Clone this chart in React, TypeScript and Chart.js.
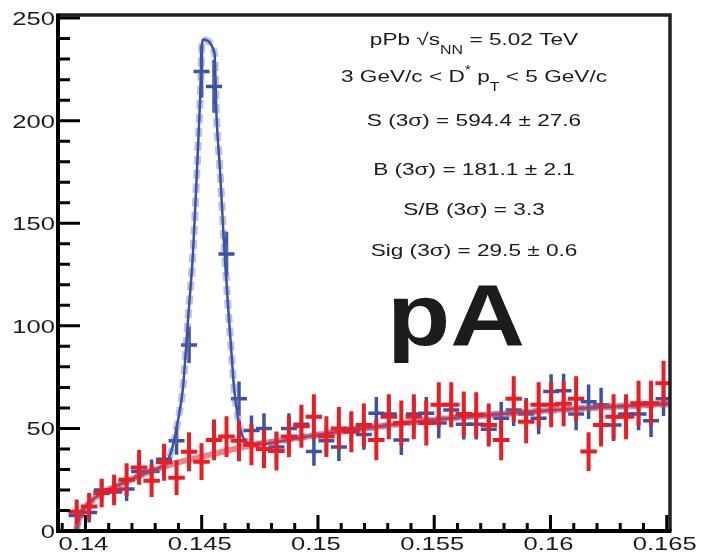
import React, { useEffect, useRef } from "react";
import { Chart, registerables } from "chart.js";

Chart.register(...registerables);

// ---------------- data ----------------
const binCenters = [
  0.139086, 0.139623, 0.14016, 0.140697, 0.141234, 0.141771, 0.142308, 0.142845, 0.143382, 0.143919,
  0.144456, 0.144993, 0.14553, 0.146067, 0.146604, 0.147141, 0.147678, 0.148215, 0.148752, 0.149289,
  0.149826, 0.150363, 0.1509, 0.151437, 0.151974, 0.152511, 0.153048, 0.153585, 0.154122, 0.154659,
  0.155196, 0.155733, 0.15627, 0.156807, 0.157344, 0.157881, 0.158418, 0.158955, 0.159492, 0.160029,
  0.160566, 0.161103, 0.16164, 0.162177, 0.162714, 0.163251, 0.163788, 0.164325, 0.164862,
];
const binHalfWidth = 0.000268;

const blueCounts = [
  null, 7.5, 9, 20, 19, 20.5, 29, 29, 35, 44,
  90.7, 224, 216.7, 135, 64.5, 49, 50, 41, 50, 52,
  38.7, 44, 41, 50, 47, 57.4, 57, 44.4, 57, 57.4,
  52.6, 59, 52, 52, 49.6, 55, 59, 57, 55, 68,
  68.3, 57, 63, 61.5, 51.7, 57, 57, 53.7, 64.4,
];
const blueErrors = [
  null, 3.5, 4, 4.5, 4.5, 5, 5, 5, 5.5, 6,
  8, 12, 12, 10, 7.5, 6.5, 6.5, 6, 6.5, 6.5,
  6, 6, 6, 6.5, 6.5, 7, 7, 6.5, 7, 7,
  6.5, 7, 6.5, 6.5, 6.5, 7, 7, 7, 7, 7.5,
  7.5, 7, 7.5, 7.5, 7, 7, 7, 7, 7.5,
];
const redCounts = [
  null, 9.4, 12, 18.5, 20, 25, 31, 24.5, 33.5, 26,
  38.6, 33.8, 44.4, 46, 44, 42, 40, 39, 46, 51,
  55.7, 46, 50, 48.4, 51.7, 44.4, 55.7, 52.6, 55.7, 52.6,
  61.5, 61.5, 57, 56.6, 51.7, 44.4, 64.4, 53.3, 61.5, 61.5,
  62, 64.4, 38.7, 51.7, 55.7, 55.7, 62.3, 62.3, 72,
];
const redErrors = [
  null, 5, 5.5, 6, 6.5, 7, 7.5, 7, 8, 7.5,
  8.5, 8, 9, 9, 9, 9, 8.5, 8.5, 9, 9.5,
  10, 9, 9.5, 9, 9.5, 9, 10, 10, 10, 10,
  10, 10, 10, 10, 9.5, 9, 10, 9.5, 10, 10,
  10, 10, 8.5, 9.5, 10, 10, 10, 10, 10,
];

// background fit (wrong sign)
const bkgFitX = [
  0.139594, 0.139766, 0.14011, 0.140626, 0.141271, 0.141916, 0.142776, 0.143852, 0.144927, 0.146217,
  0.147508, 0.149228, 0.150948, 0.152669, 0.154389, 0.15611, 0.15783, 0.159981, 0.162131, 0.165142,
];
const bkgFitY = [
  0, 7, 13, 18, 21.5, 25, 29, 33, 36, 39.5,
  42.5, 45.5, 48.5, 51, 53.5, 55.5, 57, 58.8, 60.3, 62,
];

// total fit (signal + background)
const totalFitX = [
  0.139594, 0.139766, 0.14011, 0.140626, 0.141271, 0.141916, 0.142776, 0.143207, 0.143465, 0.143723,
  0.143981, 0.144196, 0.144411, 0.144626, 0.144798, 0.144927, 0.145034, 0.145551, 0.145637, 0.145787,
  0.145959, 0.146131, 0.14626, 0.146389, 0.146561, 0.146733, 0.146991, 0.147508, 0.149228, 0.150948,
  0.152669, 0.154389, 0.15611, 0.15783, 0.159981, 0.162131, 0.165142,
];
const totalFitY = [
  0, 7, 13, 18, 21.5, 25, 29, 31, 33, 40,
  54, 70, 103, 135.6, 176, 209, 239.5, 233, 202, 176,
  140, 110, 90, 70, 55, 47, 43, 42.5, 45.5, 48.5,
  51, 53.5, 55.5, 57, 58.8, 60.3, 62,
];

const xMajorTicks = [0.14, 0.145, 0.15, 0.155, 0.16, 0.165];
const xTickLabels = ["0.14", "0.145", "0.15", "0.155", "0.16", "0.165"];
const xMinorTicks = [
  0.139, 0.141, 0.142, 0.143, 0.144, 0.146, 0.147, 0.148, 0.149, 0.151, 0.152,
  0.153, 0.154, 0.156, 0.157, 0.158, 0.159, 0.161, 0.162, 0.163, 0.164,
];
const yMajorTicks = [0, 50, 100, 150, 200, 250];
const yTickLabels = ["0", "50", "100", "150", "200", "250"];
const yMinorTicks = [
  10, 20, 30, 40, 60, 70, 80, 90, 110, 120, 130, 140, 160, 170, 180, 190, 210, 220, 230, 240,
];

type Seg = { t: string; k: "n" | "sub" | "sup" };
const infoLines: Seg[][] = [
  [{ t: "pPb √s", k: "n" }, { t: "NN", k: "sub" }, { t: " = 5.02 TeV", k: "n" }],
  [
    { t: "3 GeV/c < D", k: "n" },
    { t: "*", k: "sup" },
    { t: " p", k: "n" },
    { t: "T", k: "sub" },
    { t: " < 5 GeV/c", k: "n" },
  ],
  [{ t: "S (3σ) = 594.4 ± 27.6", k: "n" }],
  [{ t: "B (3σ) = 181.1 ± 2.1", k: "n" }],
  [{ t: "S/B (3σ) = 3.3", k: "n" }],
  [{ t: "Sig (3σ) = 29.5 ± 0.6", k: "n" }],
];
const bigLabel = "pA";

// ---------------- styles ----------------
const FONT = "'Liberation Sans', Arial, Helvetica, sans-serif";
const BLUE = "#3a53a4";
const RED = "#ec1c24";
const TEXT = "#1c1c1c";

function drawScaled(ctx: CanvasRenderingContext2D, text: string, x: number, y: number, font: string, sx: number, align: "left" | "center" | "right", baseline: CanvasTextBaseline) {
  ctx.save();
  ctx.font = font;
  const w = ctx.measureText(text).width * sx;
  const left = align === "center" ? x - w / 2 : align === "right" ? x - w : x;
  ctx.translate(left, y);
  ctx.scale(sx, 1);
  ctx.textAlign = "left";
  ctx.textBaseline = baseline;
  ctx.fillStyle = TEXT;
  ctx.fillText(text, 0, 0);
  ctx.restore();
}

function drawRich(ctx: CanvasRenderingContext2D, segs: Seg[], cx: number, baseY: number, size: number, sx: number) {
  ctx.save();
  const fontFor = (k: string) => `${k === "n" ? size : Math.round(size * 0.7)}px ${FONT}`;
  let total = 0;
  for (const s of segs) {
    ctx.font = fontFor(s.k);
    total += ctx.measureText(s.t).width;
  }
  ctx.translate(cx - (total * sx) / 2, baseY);
  ctx.scale(sx, 1);
  ctx.fillStyle = TEXT;
  ctx.textAlign = "left";
  ctx.textBaseline = "alphabetic";
  let xx = 0;
  for (const s of segs) {
    ctx.font = fontFor(s.k);
    const dy = s.k === "sub" ? size * 0.55 : s.k === "sup" ? -size * 0.45 : 0;
    ctx.fillText(s.t, xx, dy);
    xx += ctx.measureText(s.t).width;
  }
  ctx.restore();
}

function drawCrosses(chart: any, counts: (number | null)[], errs: (number | null)[], color: string, lw: number) {
  const { ctx, chartArea, scales } = chart;
  const xs = scales.x;
  const ys = scales.y;
  ctx.save();
  ctx.beginPath();
  ctx.rect(chartArea.left, chartArea.top, chartArea.right - chartArea.left, chartArea.bottom - chartArea.top);
  ctx.clip();
  ctx.strokeStyle = color;
  ctx.lineWidth = lw;
  ctx.lineCap = "square";
  for (let i = 0; i < binCenters.length; i++) {
    const v = counts[i];
    const e = errs[i];
    if (v == null || e == null) continue;
    const px = xs.getPixelForValue(binCenters[i]);
    const pl = xs.getPixelForValue(binCenters[i] - binHalfWidth);
    const pr = xs.getPixelForValue(binCenters[i] + binHalfWidth);
    const py = ys.getPixelForValue(v);
    const pt = ys.getPixelForValue(v + e);
    const pb = ys.getPixelForValue(Math.max(0, v - e));
    ctx.beginPath();
    ctx.moveTo(pl, py);
    ctx.lineTo(pr, py);
    ctx.moveTo(px, pt);
    ctx.lineTo(px, pb);
    ctx.stroke();
  }
  ctx.restore();
}

const rootPlugin = {
  id: "rootStyle",
  beforeDatasetsDraw(chart: any) {
    drawCrosses(chart, blueCounts, blueErrors, BLUE, 3.5);
  },
  afterDatasetsDraw(chart: any) {
    drawCrosses(chart, redCounts, redErrors, RED, 4);
    const { ctx, chartArea, scales } = chart;
    const xs = scales.x;
    const ys = scales.y;
    const { left, right, top, bottom } = chartArea;

    // frame
    ctx.save();
    ctx.strokeStyle = "#231f20";
    ctx.lineWidth = 3.5;
    ctx.beginPath();
    ctx.moveTo(left, top);
    ctx.lineTo(right, top);
    ctx.lineTo(right, bottom);
    ctx.stroke();
    ctx.strokeStyle = "#000";
    ctx.lineWidth = 4;
    ctx.beginPath();
    ctx.moveTo(left, top - 1.5);
    ctx.lineTo(left, bottom);
    ctx.lineTo(right + 1.5, bottom);
    ctx.stroke();

    // ticks
    ctx.lineWidth = 3;
    ctx.lineCap = "butt";
    ctx.beginPath();
    for (const t of yMajorTicks) {
      const p = ys.getPixelForValue(t);
      ctx.moveTo(left, p);
      ctx.lineTo(left + 22, p);
    }
    for (const t of yMinorTicks) {
      const p = ys.getPixelForValue(t);
      ctx.moveTo(left, p);
      ctx.lineTo(left + 12, p);
    }
    for (const t of xMajorTicks) {
      const p = xs.getPixelForValue(t);
      ctx.moveTo(p, bottom);
      ctx.lineTo(p, bottom - 16);
    }
    for (const t of xMinorTicks) {
      const p = xs.getPixelForValue(t);
      ctx.moveTo(p, bottom);
      ctx.lineTo(p, bottom - 8);
    }
    ctx.stroke();
    ctx.restore();

    // tick labels
    const tickFont = `18px ${FONT}`;
    yMajorTicks.forEach((t, i) => {
      drawScaled(ctx, yTickLabels[i], left - 3, ys.getPixelForValue(t) + 2, tickFont, 1.42, "right", "middle");
    });
    xMajorTicks.forEach((t, i) => {
      drawScaled(ctx, xTickLabels[i], xs.getPixelForValue(t) - 2, bottom + 19, tickFont, 1.42, "center", "alphabetic");
    });

    // info text
    const baselines = [45, 82, 126, 175, 215, 256];
    infoLines.forEach((segs, i) => drawRich(ctx, segs, 474, baselines[i], 17, 1.33));

    // big label
    drawScaled(ctx, bigLabel, 387, 345, `bold 87px ${FONT}`, 1.19, "left", "alphabetic");
  },
};

export default function App() {
  const ref = useRef<HTMLCanvasElement>(null);
  useEffect(() => {
    const canvas = ref.current;
    if (!canvas) return;
    const chart = new Chart(canvas, {
      type: "scatter",
      data: {
        datasets: [
          {
            label: "background fit",
            data: bkgFitX.map((x, i) => ({ x, y: bkgFitY[i] })),
            showLine: true,
            borderColor: "rgba(205,62,75,0.62)",
            borderWidth: 6,
            pointRadius: 0,
            cubicInterpolationMode: "monotone",
            order: 0,
          } as any,
          {
            label: "total fit",
            data: totalFitX.map((x, i) => ({ x, y: totalFitY[i] })),
            showLine: true,
            borderColor: BLUE,
            borderWidth: 2.5,
            pointRadius: 0,
            cubicInterpolationMode: "monotone",
            order: 1,
          } as any,
          {
            label: "total fit band",
            data: totalFitX.map((x, i) => ({ x, y: totalFitY[i] })),
            showLine: true,
            borderColor: "rgba(110,120,200,0.45)",
            borderWidth: 7,
            borderDash: [9, 5],
            pointRadius: 0,
            cubicInterpolationMode: "monotone",
            order: 2,
          } as any,
        ],
      },
      options: {
        responsive: false,
        animation: false,
        devicePixelRatio: 1,
        layout: { padding: { left: 0, right: 31, top: 15, bottom: 0 } },
        plugins: { legend: { display: false }, tooltip: { enabled: false } },
        scales: {
          x: {
            type: "linear",
            min: 0.13882,
            max: 0.16514,
            grid: { display: false },
            border: { display: false },
            ticks: { display: false },
            afterFit: (s: any) => {
              s.height = 22;
            },
          },
          y: {
            type: "linear",
            min: 0,
            max: 251.5,
            grid: { display: false },
            border: { display: false },
            ticks: { display: false },
            afterFit: (s: any) => {
              s.width = 58;
            },
          },
        },
      } as any,
      plugins: [rootPlugin],
    });
    return () => chart.destroy();
  }, []);
  return (
    <div style={{ position: "fixed", left: 0, top: 0, width: 701, height: 553, background: "#fff" }}>
      <canvas ref={ref} width={701} height={553} style={{ display: "block", width: 701, height: 553 }} />
    </div>
  );
}
